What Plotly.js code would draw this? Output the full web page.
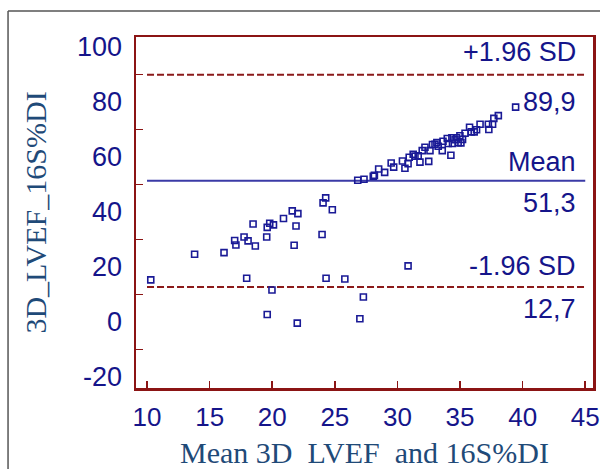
<!DOCTYPE html>
<html>
<head>
<meta charset="utf-8">
<script src="https://cdn.plot.ly/plotly-3.0.1.min.js"></script>
<style>
html,body{margin:0;padding:0;background:#fff;}
#chart{width:600px;height:469px;}
</style>
</head>
<body>
<div id="chart"></div>
<script>
// Bland-Altman data: mean of the two methods (x) and difference (y)
const meanValues = [
  10.3, 13.8, 16.15, 17.0, 17.1, 17.75, 18.07, 18.47, 18.65, 17.96,
  19.56, 19.6, 19.8, 20.1, 19.98, 19.6, 20.9, 21.6, 22.05, 21.9,
  21.75, 22.0, 23.98, 24.06, 24.27, 24.8, 24.3, 25.8, 27.28, 27.0,
  30.85,
  26.83, 27.33, 28.07, 28.16, 28.5, 28.98, 29.5, 29.7, 30.4, 30.6,
  30.85, 30.94, 31.26, 31.4, 31.66, 31.8, 31.98, 32.5, 32.6, 32.8,
  33.15, 33.26, 33.58, 33.64, 33.98, 34.06, 34.27, 34.35, 34.4, 34.72,
  34.85, 35.07, 34.99, 35.4, 35.76, 35.9, 36.13, 36.32, 36.6, 37.26,
  37.3, 37.6, 37.7, 38.06, 39.44, 33.0, 32.2, 34.6, 35.2
];
const diffValues = [
  15.3, 24.6, 25.2, 29.6, 28.0, 30.9, 29.5, 35.6, 27.6, 15.9,
  30.9, 34.4, 35.9, 35.3, 11.6, 2.7, 37.6, 40.4, 39.4, 34.9,
  27.9, -0.4, 31.8, 43.3, 45.1, 40.8, 15.9, 15.6, 9.1, 1.2,
  20.4,
  51.5, 51.9, 53.0, 53.3, 55.6, 54.4, 57.8, 56.3, 58.5, 55.9,
  57.5, 59.9, 61.0, 60.3, 60.4, 58.1, 62.3, 58.4, 62.3, 64.5,
  65.2, 63.9, 62.3, 65.7, 66.7, 64.9, 60.6, 67.0, 64.9, 67.0,
  65.2, 65.1, 67.7, 68.6, 70.8, 69.1, 69.1, 69.9, 71.9, 71.9,
  70.0, 71.9, 74.0, 75.0, 78.1, 64.6, 63.5, 66.3, 66.4
];

// Agreement statistics
const meanDiff = 51.3;
const upperLimit = 89.9;
const lowerLimit = 12.7;
const lineSpan = [10, 45];

// Axis ticks
const xTicks = [10, 15, 20, 25, 30, 35, 40, 45];
const yTicks = [-20, 0, 20, 40, 60, 80, 100];
const yTickText = yTicks.map(v => String(v));

const navy = '#15158a';
const frameRed = '#8b1414';
const titleColor = '#1f4a78';

const fmt = v => v.toFixed(1).replace('.', ',');

const traces = [
  {
    x: lineSpan, y: [upperLimit, upperLimit], mode: 'lines', type: 'scatter',
    line: {color: '#8b1a1a', width: 2, dash: '7px,3px'}, hoverinfo: 'skip', showlegend: false
  },
  {
    x: lineSpan, y: [lowerLimit, lowerLimit], mode: 'lines', type: 'scatter',
    line: {color: '#8b1a1a', width: 2, dash: '7px,3px'}, hoverinfo: 'skip', showlegend: false
  },
  {
    x: lineSpan, y: [meanDiff, meanDiff], mode: 'lines', type: 'scatter',
    line: {color: '#3a3aa6', width: 2}, hoverinfo: 'skip', showlegend: false
  },
  {
    x: meanValues, y: diffValues, mode: 'markers', type: 'scatter',
    marker: {symbol: 'square-open', size: 6, color: '#1a1a96', line: {width: 1.6, color: '#1a1a96'}},
    showlegend: false
  }
];

const annFont = {family: 'Liberation Sans, Arial, sans-serif', size: 27, color: navy};
function ann(text, y, above, shift) {
  return {
    text: text, xref: 'paper', x: 0.967, xanchor: 'right',
    yref: 'y', y: y, yanchor: above ? 'bottom' : 'top', yshift: shift,
    showarrow: false, font: annFont
  };
}

const layout = {
  width: 600, height: 469,
  margin: {l: 136, r: 7, t: 37, b: 81},
  paper_bgcolor: '#ffffff',
  plot_bgcolor: '#ffffff',
  showlegend: false,
  xaxis: {
    range: [9.12, 45.62],
    tickvals: xTicks,
    ticks: 'inside', ticklen: 7, tickwidth: 1.5, tickcolor: frameRed,
    showline: true, linecolor: frameRed, linewidth: 2.5, mirror: true,
    showgrid: false, zeroline: false,
    ticklabelstandoff: 4,
    ticklabeloverflow: 'allow',
    tickfont: {family: 'Liberation Sans, Arial, sans-serif', size: 26, color: navy},
    title: {
      text: 'Mean 3D\u00a0 LVEF\u00a0 and 16S%DI',
      font: {family: 'Liberation Serif, Times New Roman, serif', size: 30, color: titleColor},
      standoff: 12
    }
  },
  yaxis: {
    range: [-24, 103.6],
    tickvals: yTicks,
    ticktext: yTickText,
    ticks: '',
    minor: {ticks: 'inside', tick0: -10, dtick: 20, ticklen: 7, tickwidth: 1.5, tickcolor: frameRed, showgrid: false},
    showline: true, linecolor: frameRed, linewidth: 2.5, mirror: true,
    showgrid: false, zeroline: false,
    ticklabelstandoff: 6,
    tickfont: {family: 'Liberation Sans, Arial, sans-serif', size: 27, color: navy},
    title: {
      text: '3D_LVEF_16S%DI',
      font: {family: 'Liberation Serif, Times New Roman, serif', size: 30, color: titleColor},
      standoff: 22
    }
  },
  annotations: [
    ann('+1.96 SD', upperLimit, true, 6),
    ann(fmt(upperLimit), upperLimit, false, -10),
    ann('Mean', meanDiff, true, 2),
    ann(fmt(meanDiff), meanDiff, false, -5),
    ann('-1.96 SD', lowerLimit, true, 4),
    ann(fmt(lowerLimit), lowerLimit, false, -5)
  ],
  shapes: [
    {type: 'line', xref: 'paper', yref: 'paper', x0: -0.28, x1: 1.02, y0: 1.074, y1: 1.074,
     line: {color: '#555555', width: 1.5}},
    {type: 'line', xref: 'paper', yref: 'paper', x0: -0.28, x1: -0.28, y0: 1.074, y1: -0.24,
     line: {color: '#555555', width: 1.5}}
  ]
};

Plotly.newPlot('chart', traces, layout, {displayModeBar: false, staticPlot: true});
</script>
</body>
</html>
